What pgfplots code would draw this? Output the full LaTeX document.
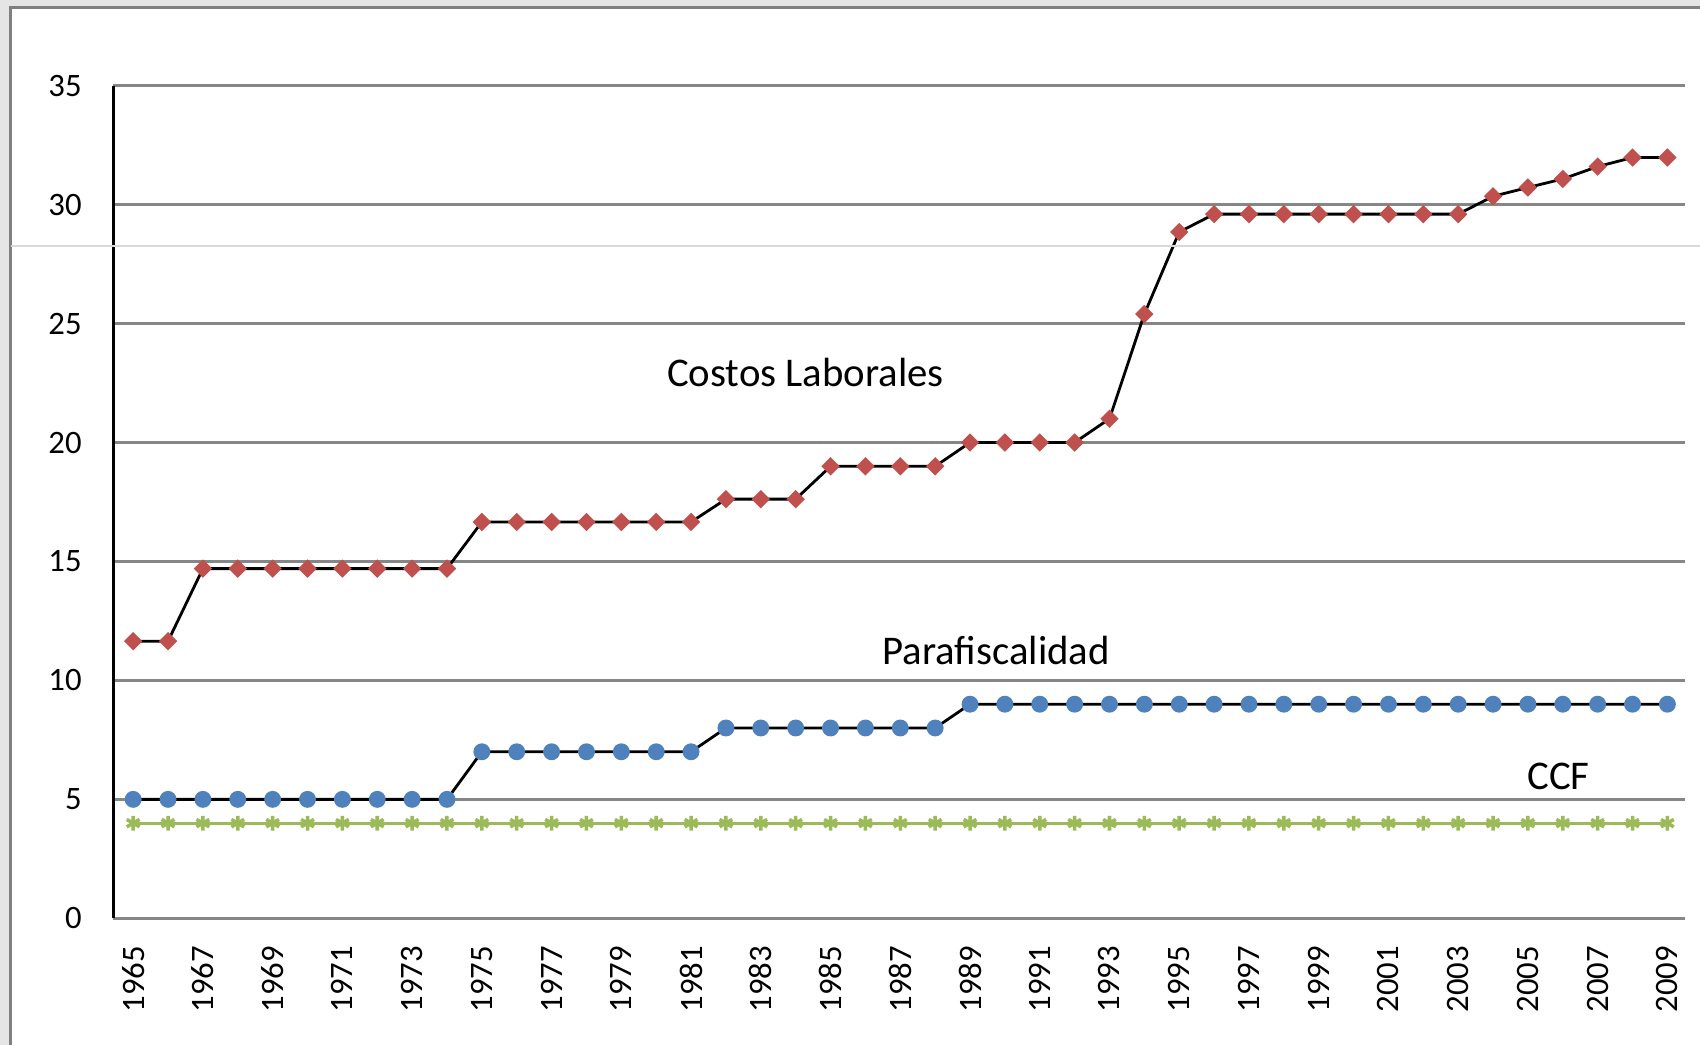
\documentclass[border=0pt]{standalone}
\usepackage{fontspec}
\setmainfont{Carlito}
\usepackage{pgfplots}
\pgfplotsset{compat=1.18}
\definecolor{cred}{HTML}{C0504D}
\definecolor{cblue}{HTML}{4F81BD}
\definecolor{cgreen}{HTML}{9BBB59}
\definecolor{cgrid}{HTML}{868686}
\begin{document}
\begin{tikzpicture}
\path[use as bounding box, fill=black!10] (-1.133,-1.267) rectangle (15.867,9.183);
\fill[white] (-1.026,-1.267) rectangle (15.867,9.11);
\draw[black!50, line width=1pt] (-1.026,-1.4) -- (-1.026,9.11) -- (16,9.11);
\begin{axis}[
  at={(0,0)}, anchor=south west, scale only axis,
  width=15.715cm, height=8.326cm,
  xmin=1964.43, xmax=2009.5, ymin=0, ymax=35,
  axis x line*=bottom, axis y line*=left,
  x axis line style={cgrid, line width=0.75pt},
  y axis line style={black, line width=0.75pt},
  major tick length=0pt,
  ytick={0,5,...,35},
  xtick={1965,1967,...,2009},
  ymajorgrids, grid style={cgrid, line width=0.7pt},
  /pgf/number format/assume math mode=true,
  /pgf/number format/1000 sep={},
  tick label style={font=\fontsize{9.3}{11}\selectfont, text=black},
  yticklabel style={anchor=east, inner sep=0pt, xshift=-0.31cm},
  xticklabel style={yshift=-0.27cm, rotate=90, anchor=east, inner sep=0pt},
  clip=false,
]
\addplot[black, line width=0.8pt, mark=square*, mark size=1.45pt,
  mark options={fill=cred, draw=cred, rotate=45, solid}] coordinates {
(1965,11.65) (1966,11.65) (1967,14.7) (1968,14.7) (1969,14.7) (1970,14.7)
(1971,14.7) (1972,14.7) (1973,14.7) (1974,14.7) (1975,16.66) (1976,16.66)
(1977,16.66) (1978,16.66) (1979,16.66) (1980,16.66) (1981,16.66) (1982,17.62)
(1983,17.62) (1984,17.62) (1985,19) (1986,19) (1987,19) (1988,19)
(1989,20) (1990,20) (1991,20) (1992,20) (1993,21) (1994,25.4)
(1995,28.85) (1996,29.6) (1997,29.6) (1998,29.6) (1999,29.6) (2000,29.6)
(2001,29.6) (2002,29.6) (2003,29.6) (2004,30.35) (2005,30.72) (2006,31.08)
(2007,31.6) (2008,31.98) (2009,31.98)
};
\addplot[black, line width=0.8pt, mark=*, mark size=2.0pt,
  mark options={fill=cblue, draw=cblue, solid}] coordinates {
(1965,5) (1966,5) (1967,5) (1968,5) (1969,5) (1970,5) (1971,5) (1972,5)
(1973,5) (1974,5) (1975,7) (1976,7) (1977,7) (1978,7) (1979,7) (1980,7)
(1981,7) (1982,8) (1983,8) (1984,8) (1985,8) (1986,8) (1987,8) (1988,8)
(1989,9) (1990,9) (1991,9) (1992,9) (1993,9) (1994,9) (1995,9) (1996,9)
(1997,9) (1998,9) (1999,9) (2000,9) (2001,9) (2002,9) (2003,9) (2004,9)
(2005,9) (2006,9) (2007,9) (2008,9) (2009,9)
};
\addplot[cgreen, line width=0.8pt, mark=asterisk, mark size=2.1pt,
  mark options={cgreen, line width=1pt, solid}] coordinates {
(1965,4) (1966,4) (1967,4) (1968,4) (1969,4) (1970,4) (1971,4) (1972,4)
(1973,4) (1974,4) (1975,4) (1976,4) (1977,4) (1978,4) (1979,4) (1980,4)
(1981,4) (1982,4) (1983,4) (1984,4) (1985,4) (1986,4) (1987,4) (1988,4)
(1989,4) (1990,4) (1991,4) (1992,4) (1993,4) (1994,4) (1995,4) (1996,4)
(1997,4) (1998,4) (1999,4) (2000,4) (2001,4) (2002,4) (2003,4) (2004,4)
(2005,4) (2006,4) (2007,4) (2008,4) (2009,4)
};
\node[font=\fontsize{11.6}{13}\selectfont] at (axis cs:1984.28,22.94) {Costos Laborales};
\node[font=\fontsize{11.6}{13}\selectfont] at (axis cs:1989.75,11.25) {Parafiscalidad};
\node[font=\fontsize{11.6}{13}\selectfont] at (axis cs:2005.88,5.97) {CCF};
\end{axis}
\draw[black!15, line width=0.3pt] (-1.026,6.723) -- (15.867,6.723);
\end{tikzpicture}
\end{document}
